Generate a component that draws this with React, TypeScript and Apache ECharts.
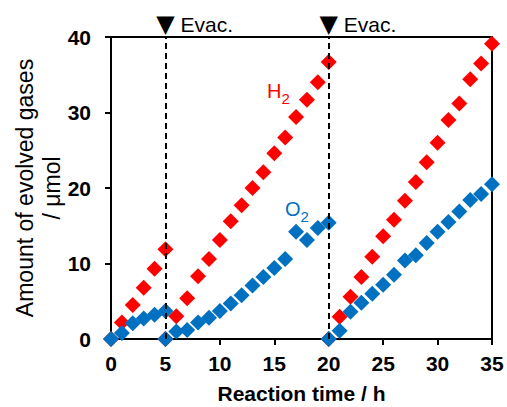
import React, { useEffect, useRef } from "react";
import * as echarts from "echarts";

// Segment 1 (0-5 h), segment 2 (5-20 h, after 1st evacuation), segment 3 (20-35 h, after 2nd evacuation)
const hoursA = [0, 1, 2, 3, 4, 5];
const h2A = [0, 2.2, 4.5, 6.8, 9.3, 11.9];
const o2A = [0, 0.8, 2.1, 2.7, 3.2, 3.7];

const hoursB = [5, 6, 7, 8, 9, 10, 11, 12, 13, 14, 15, 16, 17, 18, 19, 20];
const h2B = [0, 3.0, 5.4, 8.3, 10.6, 13.1, 15.6, 17.7, 20.0, 22.1, 24.6, 26.7, 29.4, 31.7, 34.0, 36.7];
const o2B = [0, 1.0, 1.2, 2.2, 2.8, 3.7, 4.7, 5.8, 7.1, 8.2, 9.4, 10.6, 14.2, 13.1, 14.7, 15.4];

const hoursC = [20, 21, 22, 23, 24, 25, 26, 27, 28, 29, 30, 31, 32, 33, 34, 35];
const h2C = [0, 2.95, 5.6, 8.2, 10.9, 13.6, 15.8, 18.3, 20.8, 23.4, 26.0, 29.0, 31.2, 34.4, 36.5, 39.1];
const o2C = [0, 1.1, 3.6, 4.8, 6.0, 7.2, 8.5, 10.4, 11.1, 12.7, 14.2, 15.5, 16.9, 18.4, 19.2, 20.5];

const evacTimes = [5, 20];
const xTicks = { min: 0, max: 35, interval: 5 };
const yTicks = { min: 0, max: 40, interval: 10 };

const pairs = (xs: number[], ys: number[]) => xs.map((x, i) => [x, ys[i]]);

const FONT = "'Liberation Sans', Arial, 'DejaVu Sans', sans-serif";
const RED = "#FF0000";
const BLUE = "#0070C0";

export default function App() {
  const ref = useRef<HTMLDivElement>(null);

  useEffect(() => {
    if (!ref.current) return;
    const chart = echarts.init(ref.current, undefined, { renderer: "svg" });

    const h2Data = [...pairs(hoursA, h2A), ...pairs(hoursB, h2B), ...pairs(hoursC, h2C)];
    const o2Data = [...pairs(hoursA, o2A), ...pairs(hoursB, o2B), ...pairs(hoursC, o2C)];

    const axisCommon = {
      axisLine: { show: true, onZero: false, lineStyle: { color: "#000", width: 2 } },
      axisTick: { show: true, inside: false, length: 6, lineStyle: { color: "#000", width: 2 } },
      splitLine: { show: false },
      nameMoveOverlap: false,
    };

    chart.setOption({
      animation: false,
      textStyle: { fontFamily: FONT },
      grid: {
        left: 111,
        right: 15,
        top: 37,
        bottom: 68,
        show: true,
        borderColor: "#000",
        borderWidth: 2,
        containLabel: false,
        outerBoundsMode: "none",
      },
      xAxis: {
        type: "value",
        min: xTicks.min,
        max: xTicks.max,
        interval: xTicks.interval,
        name: "Reaction time / h",
        nameLocation: "middle",
        nameGap: 44,
        nameTextStyle: { fontSize: 21, fontWeight: "bold", color: "#000", fontFamily: FONT },
        axisLabel: { fontSize: 21, fontWeight: "bold", color: "#000", margin: 14, fontFamily: FONT },
        ...axisCommon,
      },
      yAxis: {
        type: "value",
        min: yTicks.min,
        max: yTicks.max,
        interval: yTicks.interval,
        name: "Amount of evolved gases\n/ μmol",
        nameLocation: "middle",
        nameRotate: 90,
        nameGap: 46,
        nameTextStyle: { fontSize: 23, color: "#000", lineHeight: 27, fontFamily: FONT, align: "center" },
        axisLabel: { fontSize: 21, fontWeight: "bold", color: "#000", margin: 20, fontFamily: FONT },
        ...axisCommon,
      },
      graphic: [
        {
          type: "text",
          left: 267,
          top: 81,
          style: {
            text: "{m|H}{s|2}",
            fill: RED,
            rich: {
              m: { fontSize: 20, fill: RED, fontFamily: FONT, verticalAlign: "bottom", padding: [0, 0, 5, 0] },
              s: { fontSize: 15, fill: RED, fontFamily: FONT, verticalAlign: "bottom" },
            },
          },
        },
        {
          type: "text",
          left: 285,
          top: 199,
          style: {
            text: "{m|O}{s|2}",
            fill: BLUE,
            rich: {
              m: { fontSize: 20, fill: BLUE, fontFamily: FONT, verticalAlign: "bottom", padding: [0, 0, 5, 0] },
              s: { fontSize: 15, fill: BLUE, fontFamily: FONT, verticalAlign: "bottom" },
            },
          },
        },
      ],
      series: [
        {
          type: "scatter",
          name: "evac",
          data: [],
          z: 1,
          silent: true,
          markLine: {
            silent: true,
            symbol: ["none", "none"],
            lineStyle: { color: "#000", width: 2, type: [6, 4] },
            label: {
              show: true,
              position: "end",
              distance: 1,
              formatter: "{g|Evac. }{t|▼} Evac.",
              color: "#000",
              fontSize: 21,
              fontFamily: FONT,
              rich: {
                g: { color: "transparent", fontSize: 21, fontFamily: FONT },
                t: { color: "#000", fontSize: 24, fontFamily: "'DejaVu Sans', sans-serif" },
              },
            },
            data: evacTimes.map((t) => ({ xAxis: t })),
          },
        },
        {
          type: "scatter",
          name: "H2",
          data: h2Data,
          symbol: "diamond",
          symbolSize: 16,
          itemStyle: { color: RED, opacity: 1 },
          z: 2,
        },
        {
          type: "scatter",
          name: "O2",
          data: o2Data,
          symbol: "diamond",
          symbolSize: 16,
          itemStyle: { color: BLUE, opacity: 1 },
          z: 3,
        },
      ],
    });

    return () => chart.dispose();
  }, []);

  return <div ref={ref} style={{ width: 507, height: 407, position: "absolute", left: 0, top: 0 }} />;
}
